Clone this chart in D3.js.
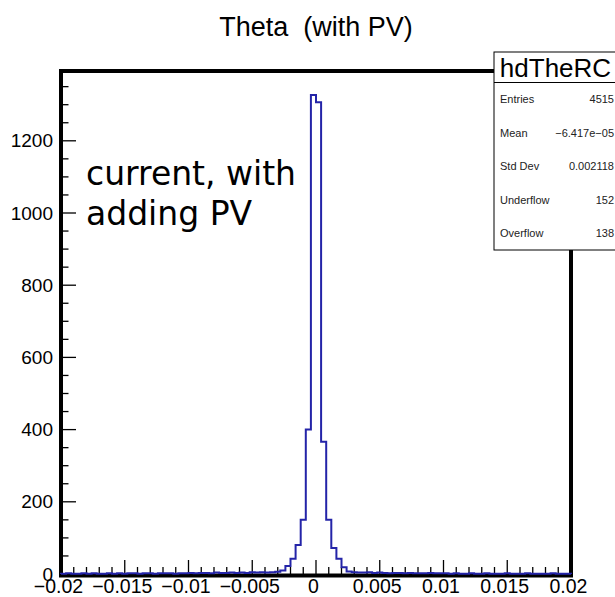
<!DOCTYPE html>
<html>
<head>
<meta charset="utf-8">
<script src="https://cdn.jsdelivr.net/npm/d3@7"></script>
<style>
  html, body { margin: 0; padding: 0; background: #fff; }
  svg { display: block; }
</style>
</head>
<body>
<svg id="chart" width="615" height="597"></svg>
<script>
// --- histogram hdTheRC : Theta (with PV) ---
const xMin = -0.02, xMax = 0.02, nBins = 100;

// bin contents (100 bins of 0.0004)
const counts = [
  1, 2, 1, 1, 2, 1, 2, 1, 1, 2, 1, 2, 1, 2, 2, 1, 2, 2, 1, 2, 2, 2, 1, 2, 2,
  3, 2, 3, 3, 2, 4, 3, 3, 4, 3, 4, 3, 5, 4, 5,
  4, 5, 6, 10, 22, 42, 80, 150, 400, 1327, 1307, 366, 150, 72, 42, 19, 7, 5, 4, 4,
  5, 3, 4, 3, 2, 3, 3, 2, 3, 2, 2, 2, 3, 2, 2,
  2, 1, 2, 1, 1, 2, 1, 1, 2, 1, 1, 1, 2, 1, 1, 1, 2, 1, 1, 1, 1, 2, 1, 1, 1
];

const xMajor = [-0.02, -0.015, -0.01, -0.005, 0, 0.005, 0.01, 0.015, 0.02];
const xLabels = ["\u22120.02", "\u22120.015", "\u22120.01", "\u22120.005", "0", "0.005", "0.01", "0.015", "0.02"];
const yMajor = [0, 200, 400, 600, 800, 1000, 1200];

const statNames = ["Entries", "Mean", "Std Dev", "Underflow", "Overflow"];
const statValues = ["4515", "\u22126.417e\u221205", "0.002118", "152", "138"];

const titleText = "Theta  (with PV)";
const histName = "hdTheRC";
const noteLines = ["current, with", "adding PV"];

const svg = d3.select("#chart");
const helv = "'Liberation Sans', Arial, Helvetica, sans-serif";

const x = d3.scaleLinear().domain([xMin, xMax]).range([61, 571]);
const yMax = d3.max(counts) * 1.05;
const y = d3.scaleLinear().domain([0, yMax]).range([574, 71]);

const binW = (xMax - xMin) / nBins;

// title (keep the double space)
svg.append("text")
  .attr("x", 316).attr("y", 36)
  .attr("text-anchor", "middle")
  .style("white-space", "pre")
  .style("font-family", helv).style("font-size", "27px")
  .text(titleText);

// frame
svg.append("rect")
  .attr("x", x(xMin)).attr("y", y(yMax))
  .attr("width", x(xMax) - x(xMin))
  .attr("height", y(0) - y(yMax) + 1.5)
  .attr("fill", "none").attr("stroke", "#000").attr("stroke-width", 4);

// x ticks
const xMinor = d3.range(0, 41).map(i => xMin + i * 0.001);
svg.append("g").selectAll("line").data(xMinor).join("line")
  .attr("x1", d => x(d)).attr("x2", d => x(d))
  .attr("y1", y(0)).attr("y2", (d, i) => y(0) - (i % 5 === 0 ? 14 : 7))
  .attr("stroke", "#000").attr("stroke-width", 1.3);

svg.append("g").selectAll("text").data(xMajor).join("text")
  .attr("x", d => x(d) - 2.5).attr("y", 593)
  .attr("text-anchor", "middle")
  .style("font-family", helv).style("font-size", "19.5px")
  .text((d, i) => xLabels[i]);

// y ticks
const yMinor = d3.range(0, 1400, 50);
svg.append("g").selectAll("line").data(yMinor).join("line")
  .attr("x1", x(xMin)).attr("x2", d => x(xMin) + (d % 200 === 0 ? 15 : 7.5))
  .attr("y1", d => y(d)).attr("y2", d => y(d))
  .attr("stroke", "#000").attr("stroke-width", 1.3);

svg.append("g").selectAll("text").data(yMajor).join("text")
  .attr("x", 53).attr("y", d => y(d))
  .attr("text-anchor", "end").attr("dy", "0.35em")
  .style("font-family", helv).style("font-size", "19px")
  .text(d => d);

// histogram outline
const pts = [[xMin, 0]];
counts.forEach((c, i) => pts.push([xMin + i * binW, c]));
pts.push([xMax, counts[nBins - 1]]);
pts.push([xMax, 0]);

const step = d3.line()
  .x(d => x(d[0])).y(d => y(d[1]))
  .curve(d3.curveStepAfter);

svg.append("path")
  .attr("d", step(pts))
  .attr("fill", "none")
  .attr("stroke", "#2424a8")
  .attr("stroke-width", 2);

// note
svg.append("g").selectAll("text").data(noteLines).join("text")
  .attr("x", 86).attr("y", (d, i) => 185 + i * 40)
  .style("font-family", "'DejaVu Sans', sans-serif").style("font-size", "33px")
  .text(d => d);

// stats box
const box = svg.append("g");
box.append("rect")
  .attr("x", 494).attr("y", 52).attr("width", 123).attr("height", 198)
  .attr("fill", "#fff").attr("stroke", "#000").attr("stroke-width", 1);
box.append("line")
  .attr("x1", 494).attr("x2", 617).attr("y1", 82.5).attr("y2", 82.5)
  .attr("stroke", "#000").attr("stroke-width", 1);
box.append("text")
  .attr("x", 555.5).attr("y", 77)
  .attr("text-anchor", "middle")
  .style("font-family", helv).style("font-size", "26px")
  .text(histName);

box.selectAll("text.name").data(statNames).join("text")
  .attr("class", "name")
  .attr("x", 500).attr("y", (d, i) => 103.3 + i * 33.5)
  .style("font-family", helv).style("font-size", "11px").attr("fill", "#222")
  .text(d => d);
box.selectAll("text.val").data(statValues).join("text")
  .attr("class", "val")
  .attr("x", 614).attr("y", (d, i) => 103.3 + i * 33.5)
  .attr("text-anchor", "end")
  .style("font-family", helv).style("font-size", "11px").attr("fill", "#222")
  .text(d => d);
</script>
</body>
</html>
